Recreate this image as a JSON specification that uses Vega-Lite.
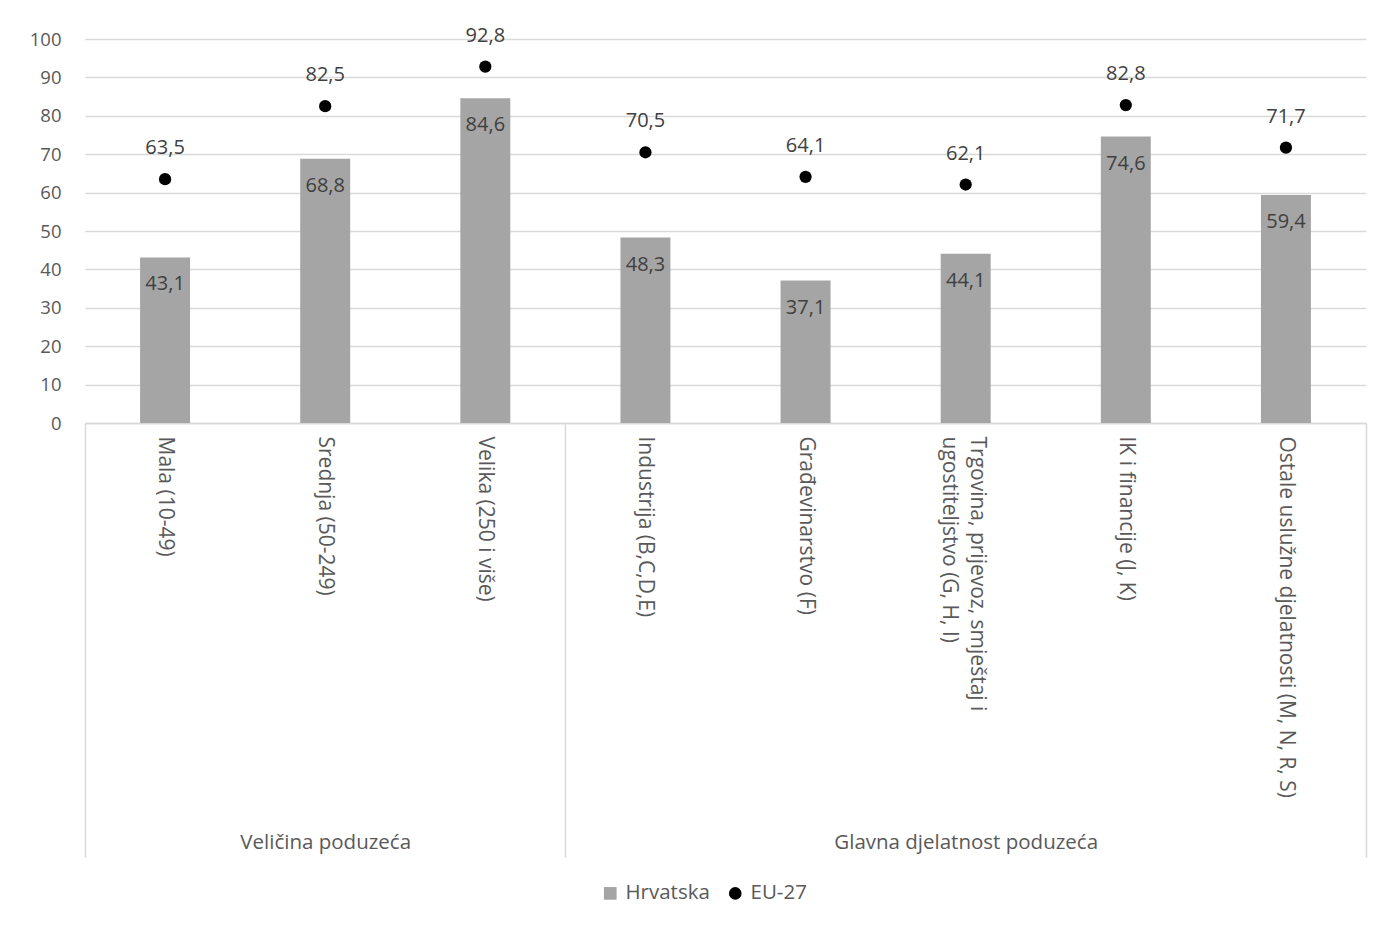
{
  "$schema": "https://vega.github.io/schema/vega-lite/v6.json",
  "autosize": {"type": "none"},
  "width": 1281,
  "height": 384,
  "padding": {"left": 85, "top": 39, "right": 20, "bottom": 503},
  "background": "white",
  "config": {
    "font": "Open Sans",
    "view": {"stroke": null},
    "locale": {"number": {"decimal": ",", "thousands": ".", "grouping": [3], "currency": ["", " €"]}}
  },
  "data": {
    "values": [
      {"category": "Mala (10-49)", "series": "Hrvatska", "value": 43.1},
      {"category": "Srednja (50-249)", "series": "Hrvatska", "value": 68.8},
      {"category": "Velika (250 i više)", "series": "Hrvatska", "value": 84.6},
      {"category": "Industrija (B,C,D,E)", "series": "Hrvatska", "value": 48.3},
      {"category": "Građevinarstvo (F)", "series": "Hrvatska", "value": 37.1},
      {"category": "Trgovina, prijevoz, smještaj i ugostiteljstvo (G, H, I)", "series": "Hrvatska", "value": 44.1},
      {"category": "IK i financije (J, K)", "series": "Hrvatska", "value": 74.6},
      {"category": "Ostale uslužne djelatnosti  (M, N, R, S)", "series": "Hrvatska", "value": 59.4},
      {"category": "Mala (10-49)", "series": "EU-27", "value": 63.5},
      {"category": "Srednja (50-249)", "series": "EU-27", "value": 82.5},
      {"category": "Velika (250 i više)", "series": "EU-27", "value": 92.8},
      {"category": "Industrija (B,C,D,E)", "series": "EU-27", "value": 70.5},
      {"category": "Građevinarstvo (F)", "series": "EU-27", "value": 64.1},
      {"category": "Trgovina, prijevoz, smještaj i ugostiteljstvo (G, H, I)", "series": "EU-27", "value": 62.1},
      {"category": "IK i financije (J, K)", "series": "EU-27", "value": 82.8},
      {"category": "Ostale uslužne djelatnosti  (M, N, R, S)", "series": "EU-27", "value": 71.7}
    ]
  },
  "layer": [
    {
      "encoding": {
        "x": {
          "field": "category",
          "type": "nominal",
          "sort": null,
          "scale": {"paddingInner": 0.688, "paddingOuter": 0.344},
          "axis": {
            "title": null,
            "labelAngle": 90,
            "labelPadding": 13,
            "labelFontSize": 21,
            "labelColor": "#595959",
            "labelLineHeight": 28,
            "labelLimit": 600,
            "labelOverlap": false,
            "labelOffset": {"condition": {"test": "datum.value == 'Trgovina, prijevoz, smještaj i ugostiteljstvo (G, H, I)'", "value": 11}, "value": 0},
            "labelExpr": "datum.value == 'Trgovina, prijevoz, smještaj i ugostiteljstvo (G, H, I)' ? ['Trgovina, prijevoz, smještaj i', 'ugostiteljstvo (G, H, I)'] : datum.value",
            "ticks": false,
            "domain": true,
            "domainColor": "#d9d9d9",
            "domainWidth": 1.5,
            "grid": false
          }
        },
        "y": {
          "field": "value",
          "type": "quantitative",
          "scale": {"domain": [0, 100], "nice": false},
          "axis": {
            "title": null,
            "values": [0, 10, 20, 30, 40, 50, 60, 70, 80, 90, 100],
            "labelFontSize": 18.5,
            "labelColor": "#595959",
            "labelPadding": 24,
            "ticks": false,
            "domain": false,
            "grid": true,
            "gridColor": "#d9d9d9",
            "gridWidth": 1.5
          }
        },
        "color": {
          "field": "series",
          "type": "nominal",
          "scale": {"domain": ["Hrvatska", "EU-27"], "range": ["#a5a5a5", "#000000"]},
          "legend": {
            "title": null,
            "orient": "none",
            "direction": "horizontal",
            "legendX": 515,
            "legendY": 844,
            "labelFontSize": 20.5,
            "labelColor": "#595959",
            "symbolSize": 160,
            "labelOffset": 5,
            "columnPadding": 15,
            "encode": {
              "symbols": {
                "update": {
                  "shape": {"signal": "datum.value == 'Hrvatska' ? 'square' : 'circle'"},
                  "fillOpacity": {"value": 1},
                  "strokeWidth": {"value": 0}
                }
              }
            }
          }
        }
      },
      "layer": [
        {
          "transform": [{"filter": "datum.series == 'Hrvatska'"}],
          "mark": {"type": "bar"}
        },
        {
          "transform": [{"filter": "datum.series == 'Hrvatska'"}],
          "mark": {"type": "text", "dy": 27, "baseline": "middle", "fontSize": 20, "color": "#404040"},
          "encoding": {
            "text": {"field": "value", "type": "quantitative", "format": ".1f"},
            "color": {"value": "#404040"}
          }
        },
        {
          "transform": [{"filter": "datum.series == 'EU-27'"}],
          "mark": {"type": "point", "filled": true, "opacity": 1, "size": 150, "shape": "circle"}
        },
        {
          "transform": [{"filter": "datum.series == 'EU-27'"}],
          "mark": {"type": "text", "dy": -31, "baseline": "middle", "fontSize": 20, "color": "#404040"},
          "encoding": {
            "text": {"field": "value", "type": "quantitative", "format": ".1f"},
            "color": {"value": "#404040"}
          }
        }
      ]
    },
    {
      "mark": {"type": "rule", "opacity": 0},
      "encoding": {
        "x": {
          "datum": 0,
          "type": "quantitative",
          "scale": {"domain": [0, 8], "nice": false, "zero": false},
          "axis": {
            "title": null,
            "orient": "bottom",
            "values": [0, 1.5, 3, 5.5, 8],
            "domain": false,
            "grid": false,
            "ticks": true,
            "tickSize": 434,
            "tickWidth": 1.5,
            "tickColor": "#d9d9d9",
            "tickOpacity": {"condition": {"test": "datum.value == 1.5 || datum.value == 5.5", "value": 0}, "value": 1},
            "labelExpr": "datum.value == 1.5 ? 'Veličina poduzeća' : (datum.value == 5.5 ? 'Glavna djelatnost poduzeća' : '')",
            "labelPadding": -25,
            "labelAngle": 0,
            "labelFontSize": 20.5,
            "labelColor": "#595959",
            "labelLimit": 600,
            "labelOverlap": false,
            "labelFlush": false,
            "labelBound": false
          }
        }
      }
    }
  ],
  "resolve": {"scale": {"x": "independent"}, "axis": {"x": "independent"}}
}
